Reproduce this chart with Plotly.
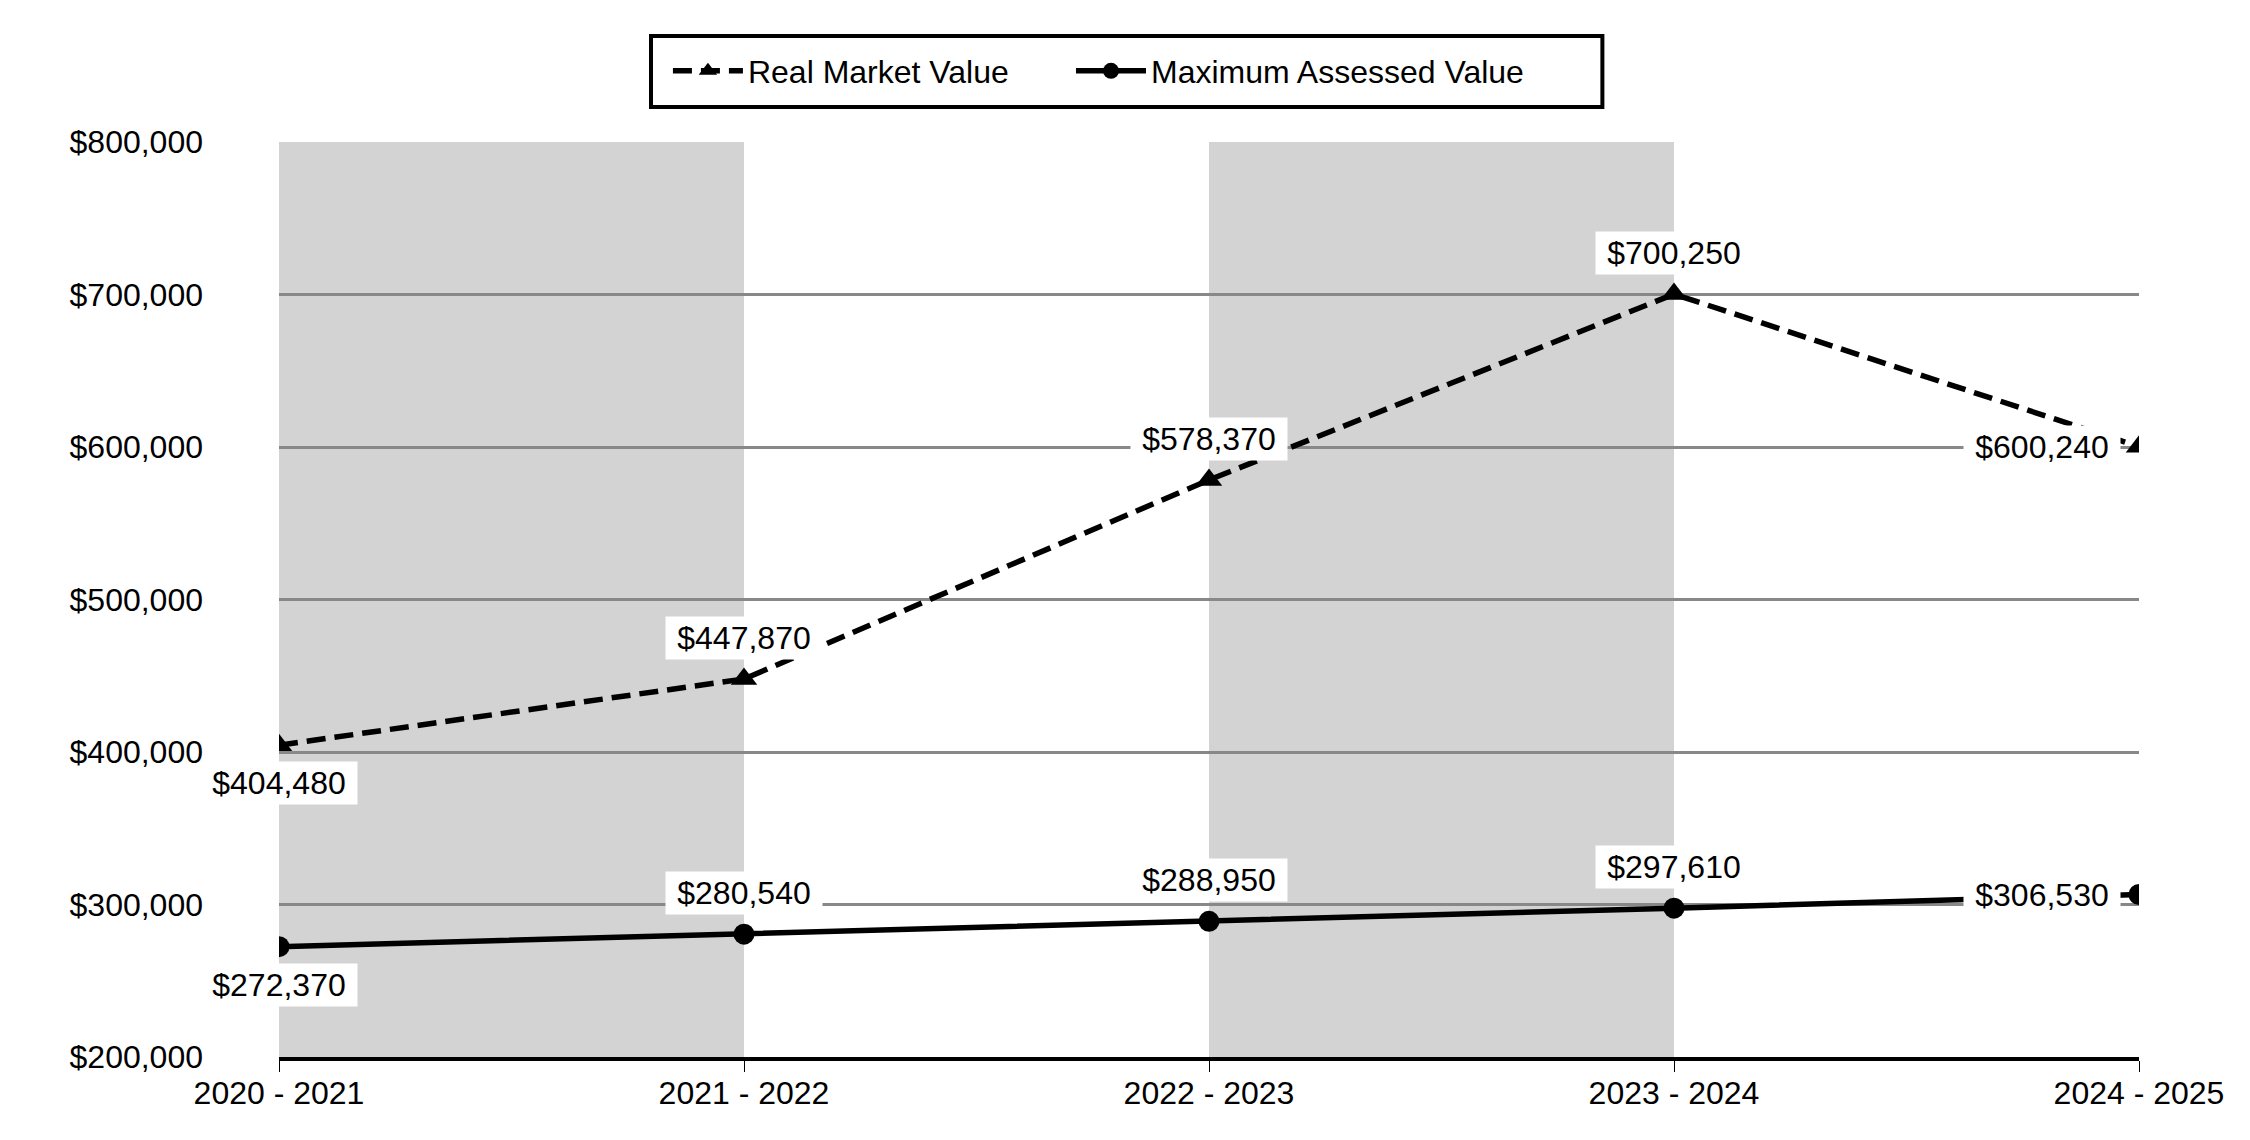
import plotly.graph_objects as go

categories = ["2020 - 2021", "2021 - 2022", "2022 - 2023", "2023 - 2024", "2024 - 2025"]
real_market = [404480, 447870, 578370, 700250, 600240]
max_assessed = [272370, 280540, 288950, 297610, 306530]
y_ticks = [200000, 300000, 400000, 500000, 600000, 700000, 800000]
y_ticktext = ["$200,000", "$300,000", "$400,000", "$500,000", "$600,000", "$700,000", "$800,000"]
# label placement per point: "above", "below", "left"
rmv_pos = ["below", "above", "above", "above", "left"]
mav_pos = ["below", "above", "above", "above", "left"]
shaded_bands = [(0, 1), (2, 3)]

FONT = "Liberation Sans, Arial, sans-serif"
FS = 32

fig = go.Figure()
fig.add_trace(go.Scatter(
    x=categories, y=real_market, name="Real Market Value", mode="lines+markers",
    line=dict(color="black", width=5.5, dash="19px,9px"),
    marker=dict(symbol="triangle-up", size=23, color="black"),
    legend="legend",
))
fig.add_trace(go.Scatter(
    x=categories, y=max_assessed, name="Maximum Assessed Value", mode="lines+markers",
    line=dict(color="black", width=5.5),
    marker=dict(symbol="circle", size=21, color="black"),
    legend="legend2",
))

for x0, x1 in shaded_bands:
    fig.add_shape(type="rect", xref="x", yref="paper", x0=x0, x1=x1, y0=0, y1=1,
                  fillcolor="#d3d3d3", line=dict(width=0), layer="below")

# legend frame
fig.add_shape(type="rect", xref="paper", yref="paper", x0=0.2000, x1=0.7115,
              y0=1.0383, y1=1.1158, line=dict(color="black", width=4),
              fillcolor="rgba(0,0,0,0)", layer="above")

def add_labels(values, positions):
    for cat, v, p in zip(categories, values, positions):
        kw = dict(x=cat, y=v, text="${:,}".format(v), showarrow=False,
                  bgcolor="white", font=dict(family=FONT, size=FS, color="black"),
                  width=156, height=42, borderpad=0)
        if p == "above":
            kw.update(yshift=41)
        elif p == "below":
            kw.update(yshift=-38)
        else:
            kw.update(xanchor="right", xshift=-18)
        fig.add_annotation(**kw)

add_labels(real_market, rmv_pos)
add_labels(max_assessed, mav_pos)

leg_common = dict(orientation="h", yanchor="middle", y=1.0776, xanchor="left",
                  bgcolor="rgba(0,0,0,0)", borderwidth=0,
                  font=dict(family=FONT, size=FS, color="black"), itemwidth=70)

fig.update_layout(
    width=2250, height=1140,
    margin=dict(l=271, r=119, t=134, b=91, autoexpand=False),
    paper_bgcolor="white", plot_bgcolor="white",
    font=dict(family=FONT, size=FS, color="black"),
    showlegend=True,
    legend=dict(x=0.2091, **leg_common),
    legend2=dict(x=0.4258, **leg_common),
    xaxis=dict(
        type="category", range=[0, 4], showgrid=False,
        showline=True, linecolor="black", linewidth=4,
        ticks="outside", ticklen=11, tickwidth=1, tickcolor="black",
        ticklabelstandoff=-6,
        tickfont=dict(family=FONT, size=FS, color="black"),
        zeroline=False,
    ),
    yaxis=dict(
        range=[200000, 800000], tickvals=y_ticks, ticktext=y_ticktext,
        showgrid=True, gridcolor="#888888", gridwidth=2.5,
        showline=False, zeroline=False, ticks="",
        ticklabelstandoff=75,
        tickfont=dict(family=FONT, size=FS, color="black"),
    ),
)

fig.write_html("out.html")
